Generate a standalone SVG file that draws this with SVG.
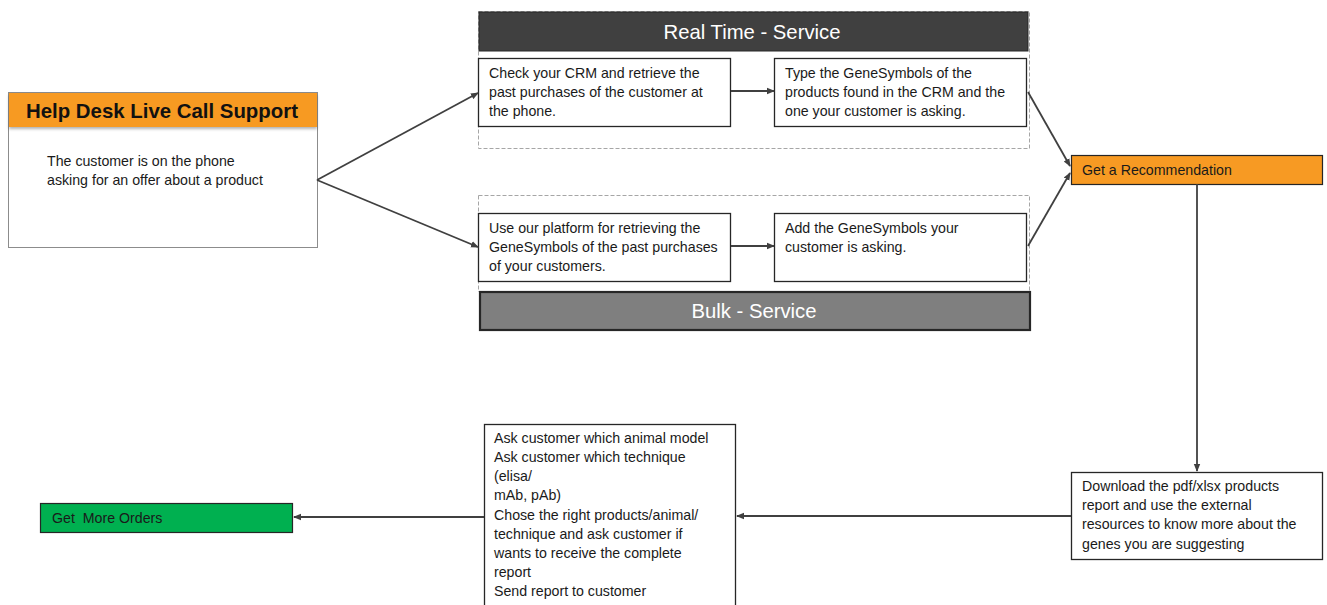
<svg xmlns="http://www.w3.org/2000/svg" width="1327" height="605" viewBox="0 0 1327 605">
<defs>
<marker id="ah" markerWidth="8" markerHeight="8" refX="7" refY="4" orient="auto" markerUnits="userSpaceOnUse">
<path d="M0,0.8 L8,4 L0,7.2 Z" fill="#404040"/>
</marker>
<filter id="sh" x="-5%" y="-20%" width="110%" height="150%">
<feDropShadow dx="0" dy="2" stdDeviation="1.5" flood-color="#000" flood-opacity="0.3"/>
</filter>
</defs>
<style>
.t{font-family:"Liberation Sans",Arial,sans-serif;font-size:14.2px;fill:#1a1a1a;white-space:pre}
.box{fill:#fff;stroke:#262626;stroke-width:1.3}
.dash{fill:none;stroke:#a6a6a6;stroke-width:1;stroke-dasharray:4 2}
.con{fill:none;stroke:#404040;stroke-width:1.8;marker-end:url(#ah)}
</style>
<rect width="1327" height="605" fill="#fff"/>

<g id="helpdesk">
<rect x="8.5" y="92.5" width="309" height="155" fill="#fff" stroke="#8c8c8c" stroke-width="1"/>
<rect x="9" y="93" width="308" height="34" fill="#f79a23" filter="url(#sh)"/>
<text x="162" y="118" text-anchor="middle" font-family="'Liberation Sans',Arial,sans-serif" font-weight="bold" font-size="20.4" fill="#111">Help Desk Live Call Support</text>
<text class="t" x="47" y="166">The customer is on the phone</text>
<text class="t" x="47" y="185">asking for an offer about a product</text>
</g>

<g id="realtime">
<rect class="dash" x="478.5" y="11.5" width="551" height="137"/>
<rect x="479" y="12" width="549" height="39" fill="#404040" stroke="#262626" stroke-width="1"/>
<text x="752" y="39" text-anchor="middle" font-family="'Liberation Sans',Arial,sans-serif" font-size="20.3" fill="#fff">Real Time - Service</text>
</g>
<g id="rt1">
<rect class="box" x="478.5" y="58.5" width="252" height="68"/>
<text class="t" x="489" y="78">Check your CRM and retrieve the</text>
<text class="t" x="489" y="97">past purchases of the customer at</text>
<text class="t" x="489" y="116">the phone.</text>
</g>
<g id="rt2">
<rect class="box" x="774.5" y="58.5" width="252" height="68"/>
<text class="t" x="785" y="78">Type the GeneSymbols of the</text>
<text class="t" x="785" y="97">products found in the CRM and the</text>
<text class="t" x="785" y="116">one your customer is asking.</text>
</g>

<g id="bulk">
<rect class="dash" x="478.5" y="195.5" width="551" height="96"/>
<rect x="480" y="292" width="550" height="38" fill="#7f7f7f" stroke="#262626" stroke-width="2.2"/>
<text x="754" y="318" text-anchor="middle" font-family="'Liberation Sans',Arial,sans-serif" font-size="20.3" fill="#fff">Bulk - Service</text>
</g>
<g id="b1">
<rect class="box" x="478.5" y="213.5" width="252" height="68"/>
<text class="t" x="489" y="233">Use our platform for retrieving the</text>
<text class="t" x="489" y="252">GeneSymbols of the past purchases</text>
<text class="t" x="489" y="271">of your customers.</text>
</g>
<g id="b2">
<rect class="box" x="774.5" y="213.5" width="252" height="68"/>
<text class="t" x="785" y="233">Add the GeneSymbols your</text>
<text class="t" x="785" y="252">customer is asking.</text>
</g>

<g id="recommend">
<rect x="1071.5" y="155.5" width="251" height="29" fill="#f79a23" stroke="#262626" stroke-width="1.2"/>
<text class="t" x="1082" y="175">Get a Recommendation</text>
</g>

<g id="download">
<rect class="box" x="1071.5" y="472.5" width="251" height="87"/>
<text class="t" x="1082" y="491">Download the pdf/xlsx products</text>
<text class="t" x="1082" y="510">report and use the external</text>
<text class="t" x="1082" y="529">resources to know more about the</text>
<text class="t" x="1082" y="549">genes you are suggesting</text>
</g>

<g id="ask">
<rect class="box" x="484.5" y="424.5" width="251" height="200"/>
<text class="t" x="494" y="443">Ask customer which animal model</text>
<text class="t" x="494" y="462">Ask customer which technique</text>
<text class="t" x="494" y="481">(elisa/</text>
<text class="t" x="494" y="500">mAb, pAb)</text>
<text class="t" x="494" y="520">Chose the right products/animal/</text>
<text class="t" x="494" y="539">technique and ask customer if</text>
<text class="t" x="494" y="558">wants to receive the complete</text>
<text class="t" x="494" y="577">report</text>
<text class="t" x="494" y="596">Send report to customer</text>
</g>

<g id="orders">
<rect x="40.5" y="503.5" width="252" height="29" fill="#00b050" stroke="#262626" stroke-width="1.2"/>
<text class="t" x="52" y="523">Get  More Orders</text>
</g>

<g id="connectors">
<path class="con" d="M317,180 L478,93"/>
<path class="con" d="M317,180 L478,247"/>
<path class="con" d="M731,91 L774,91"/>
<path class="con" d="M731,246 L774,246"/>
<path class="con" d="M1028,92 L1070,166"/>
<path class="con" d="M1028,246 L1070,173"/>
<path class="con" d="M1197,184 L1197,471"/>
<path class="con" d="M1071,516 L737,516"/>
<path class="con" d="M484,517 L294,517"/>
</g>
</svg>
